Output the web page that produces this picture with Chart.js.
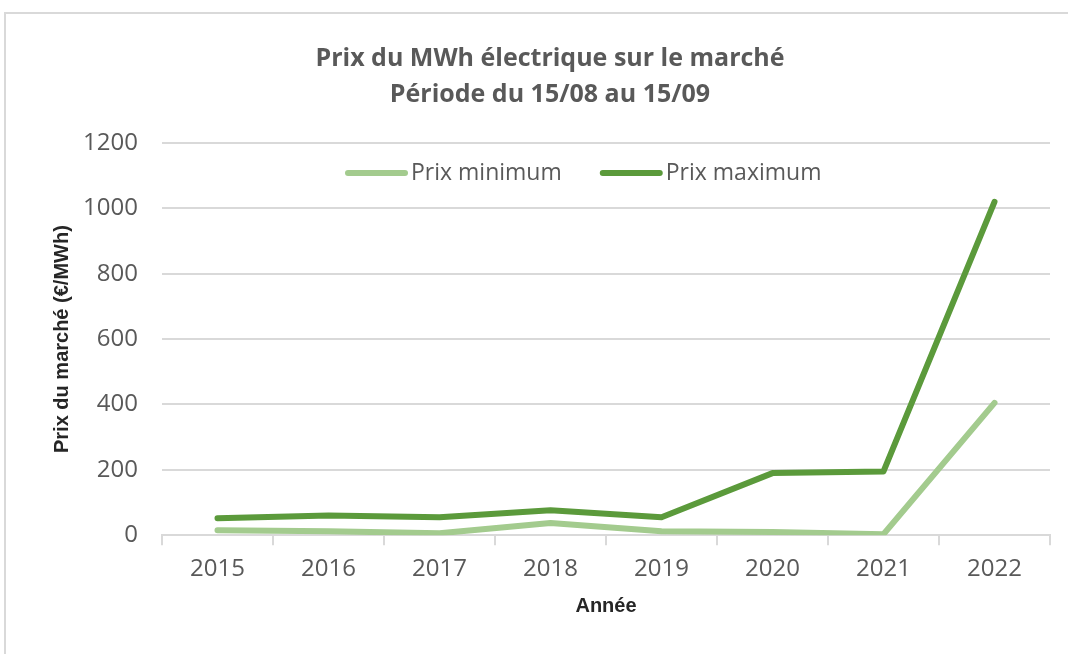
<!DOCTYPE html>
<html lang="fr">
<head>
    <meta charset="UTF-8">
    <title>Prix du MWh électrique sur le marché</title>
    <script src="https://cdn.jsdelivr.net/npm/chart.js"></script>
    <style>
        body {
            margin: 0;
            background: #ffffff;
            width: 1068px;
            height: 654px;
            overflow: hidden;
            position: relative;
        }
        .frame {
            position: absolute;
            left: 4px;
            top: 12px;
            width: 1100px;
            height: 700px;
            border: 2px solid #d9d9d9;
        }
        .chart-box {
            position: absolute;
            left: 0;
            top: 0;
            width: 1068px;
            height: 654px;
        }
    </style>
</head>
<body>
    <div class="frame"></div>
    <div class="chart-box">
        <canvas id="priceChart"></canvas>
    </div>

    <script>
        // Années (catégories)
        var years = ['2015', '2016', '2017', '2018', '2019', '2020', '2021', '2022'];

        // Prix du marché en €/MWh
        var prixMinimum = [15, 12, 6, 37, 12, 10, 3, 405];
        var prixMaximum = [52, 60, 55, 76, 55, 190, 195, 1020];

        var textGray = '#595959';
        var gridGray = '#d9d9d9';
        var baseFont = '"Open Sans", sans-serif';

        // Légende dessinée à l'intérieur de la zone du graphique, sur une ligne
        var inlineLegend = {
            id: 'inlineLegend',
            afterDraw: function (chart) {
                var c = chart.ctx;
                var area = chart.chartArea;
                var x = area.left + 183;
                var y = area.top + 30;
                c.save();
                c.font = '23px ' + baseFont;
                c.textBaseline = 'middle';
                c.textAlign = 'left';
                chart.data.datasets.forEach(function (ds) {
                    c.strokeStyle = ds.borderColor;
                    c.lineWidth = 6;
                    c.lineCap = 'round';
                    c.beginPath();
                    c.moveTo(x + 3, y);
                    c.lineTo(x + 60, y);
                    c.stroke();
                    c.fillStyle = textGray;
                    c.fillText(ds.label, x + 66, y);
                    x += 66 + c.measureText(ds.label).width + 38;
                });
                c.restore();
            }
        };

        var ctx = document.getElementById('priceChart').getContext('2d');
        var priceChart = new Chart(ctx, {
            type: 'line',
            data: {
                labels: years,
                datasets: [{
                    label: 'Prix minimum',
                    data: prixMinimum,
                    borderColor: '#a3cb8e',
                    backgroundColor: '#a3cb8e',
                    borderWidth: 6,
                    pointRadius: 0,
                    tension: 0,
                    borderCapStyle: 'round',
                    borderJoinStyle: 'round'
                }, {
                    label: 'Prix maximum',
                    data: prixMaximum,
                    borderColor: '#5b9a3b',
                    backgroundColor: '#5b9a3b',
                    borderWidth: 6,
                    pointRadius: 0,
                    tension: 0,
                    borderCapStyle: 'round',
                    borderJoinStyle: 'round'
                }]
            },
            options: {
                responsive: true,
                maintainAspectRatio: false,
                animation: false,
                layout: {
                    padding: { left: 50, right: 18, top: 0, bottom: 36 }
                },
                plugins: {
                    title: {
                        display: true,
                        text: ['Prix du MWh électrique sur le marché', 'Période du 15/08 au 15/09'],
                        color: textGray,
                        font: { family: baseFont, size: 25, weight: 'bold', lineHeight: 1.44 },
                        padding: { top: 41, bottom: 30 }
                    },
                    legend: { display: false },
                    tooltip: { enabled: false }
                },
                scales: {
                    x: {
                        offset: true,
                        grid: {
                            display: true,
                            offset: true,
                            drawOnChartArea: false,
                            drawTicks: true,
                            tickLength: 10,
                            color: gridGray,
                            lineWidth: 2
                        },
                        border: { display: true, color: gridGray, width: 2 },
                        ticks: {
                            color: textGray,
                            padding: 10,
                            font: { family: baseFont, size: 24 }
                        },
                        title: {
                            display: true,
                            text: 'Année',
                            color: '#262626',
                            font: { family: '"Liberation Sans", sans-serif', size: 20, weight: 'bold' },
                            padding: { top: 0, bottom: 0 }
                        }
                    },
                    y: {
                        min: 0,
                        max: 1200,
                        afterFit: function (scale) { scale.width = 112; },
                        grid: {
                            color: gridGray,
                            lineWidth: 2,
                            drawTicks: false
                        },
                        border: { display: false },
                        ticks: {
                            stepSize: 200,
                            color: textGray,
                            padding: 24,
                            font: { family: baseFont, size: 24 },
                            callback: function (value) { return String(value); }
                        },
                        title: {
                            display: true,
                            text: 'Prix du marché (€/MWh)',
                            color: '#262626',
                            font: { family: '"Liberation Sans", sans-serif', size: 20, weight: 'bold' },
                            padding: { top: 0, bottom: 0 }
                        }
                    }
                }
            },
            plugins: [inlineLegend]
        });
    </script>
</body>
</html>
